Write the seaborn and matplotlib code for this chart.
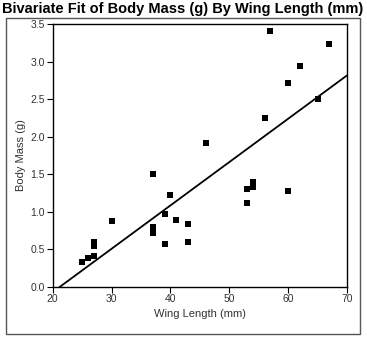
import matplotlib
matplotlib.use("Agg")
import matplotlib.pyplot as plt
import seaborn as sns
import pandas as pd
from matplotlib.patches import Rectangle

wing_length = [25, 26, 27, 27, 27, 30, 37, 37, 37, 37, 39, 39, 40, 41, 43, 43,
               46, 53, 53, 54, 54, 56, 57, 60, 60, 62, 65, 67]
body_mass = [0.33, 0.38, 0.41, 0.54, 0.59, 0.88, 1.50, 0.80, 0.75, 0.71, 0.97, 0.57,
             1.22, 0.89, 0.84, 0.59, 1.91, 1.30, 1.12, 1.40, 1.33, 2.25, 3.41, 2.72,
             1.28, 2.94, 2.50, 3.23]
x_ticks = [20, 30, 40, 50, 60, 70]
y_ticks = [0.0, 0.5, 1.0, 1.5, 2.0, 2.5, 3.0, 3.5]

df = pd.DataFrame({"Wing Length (mm)": wing_length, "Body Mass (g)": body_mass})

sns.set_style("ticks")
plt.rcParams['font.family'] = ['Liberation Sans', 'DejaVu Sans']

fig = plt.figure(figsize=(3.67, 3.42), dpi=100)
ax = fig.add_axes([52.7 / 367, 1 - 286.7 / 342, (347 - 52.7) / 367, (286.7 - 24) / 342])
ax.set_xlim(20, 70)
ax.set_ylim(0, 3.5)
sns.regplot(data=df, x="Wing Length (mm)", y="Body Mass (g)", ax=ax, ci=None,
            truncate=False, marker="s", color="black",
            scatter_kws=dict(s=22, linewidths=0, alpha=1),
            line_kws=dict(color="black", lw=1.3))
ax.set_xlim(20, 70)
ax.set_ylim(0, 3.5)
ax.set_xticks(x_ticks)
ax.set_yticks(y_ticks)
ax.set_xticklabels([str(t) for t in x_ticks])
ax.set_yticklabels([f"{t:.1f}" for t in y_ticks])
for s in ax.spines.values():
    s.set_visible(True)
    s.set_color("black")
    s.set_linewidth(1.0)
ax.tick_params(direction="out", length=4, width=0.8, colors="black",
               labelsize=7.5, labelcolor="#333333", pad=1.5)
ax.set_xlabel("Wing Length (mm)", fontsize=8, color="#333333", labelpad=3)
ax.set_ylabel("Body Mass (g)", fontsize=8, color="#333333", labelpad=3)

fig.text(2 / 367, 1 - 9 / 342, "Bivariate Fit of Body Mass (g) By Wing Length (mm)",
         fontsize=10.5, fontweight="bold", ha="left", va="center", color="black")
fig.patches.append(Rectangle((6 / 367, 1 - 334 / 342), (360 - 6) / 367, (334 - 18) / 342,
                             transform=fig.transFigure, fill=False,
                             edgecolor="#555555", lw=1.0))

fig.savefig("out.png", dpi=100)
